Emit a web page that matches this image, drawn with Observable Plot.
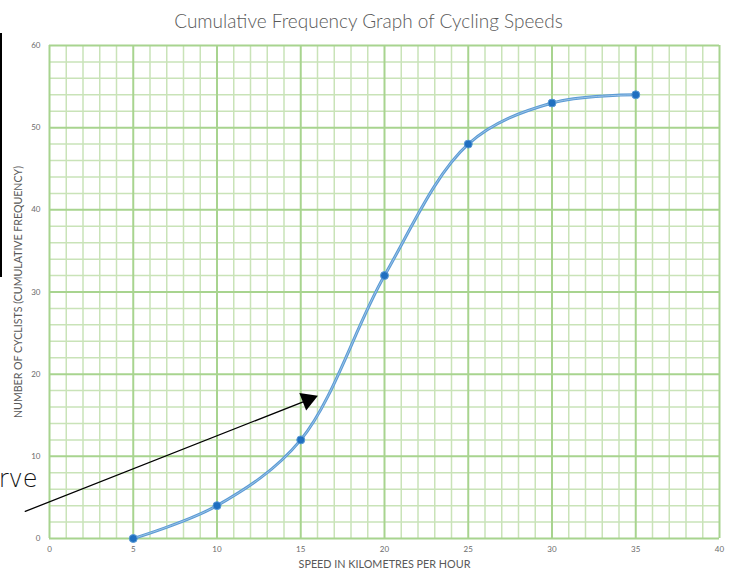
<!DOCTYPE html>
<html>
<head>
<meta charset="utf-8">
<script src="https://cdn.jsdelivr.net/npm/d3@7"></script>
<script src="https://cdn.jsdelivr.net/npm/@observablehq/plot@0.6"></script>
<style>
  html, body { margin: 0; padding: 0; background: #fff; }
  #chart svg { display: block; }
</style>
</head>
<body>
<div id="chart"></div>
<script>
// Data
const speeds = [5, 10, 15, 20, 25, 30, 35];
const cumFreq = [0, 4, 12, 32, 48, 53, 54];
const xTicks = [0, 5, 10, 15, 20, 25, 30, 35, 40];
const yTicks = [0, 10, 20, 30, 40, 50, 60];
const xMinor = d3.range(0, 41, 1);
const yMinor = d3.range(0, 61, 2);
// annotation arrow (data coordinates)
const arrowX = [-1.45, 15.6];
const arrowY = [3.3, 17.0];
const noteText = ["rve"];

const title = "Cumulative Frequency Graph of Cycling Speeds";
const xLabel = "SPEED IN KILOMETRES PER HOUR";
const yLabel = "NUMBER OF CYCLISTS (CUMULATIVE FREQUENCY)";

const pts = speeds.map((s, i) => ({x: s, y: cumFreq[i]}));
const arrowPts = arrowX.map((x, i) => ({x, y: arrowY[i]}));

const font = "Lato, 'Open Sans', sans-serif";

const chart = Plot.plot({
  width: 734,
  height: 572,
  marginLeft: 49,
  marginRight: 15,
  marginTop: 45,
  marginBottom: 34,
  style: {fontFamily: font, background: "#fff"},
  x: {domain: [0, 40]},
  y: {domain: [0, 60]},
  marks: [
    Plot.ruleX(xMinor.filter(d => d % 5 !== 0), {stroke: "#c9e3b8", strokeWidth: 1.5}),
    Plot.ruleY(yMinor.filter(d => d % 10 !== 0), {stroke: "#c9e3b8", strokeWidth: 1.5}),
    Plot.ruleX(xTicks, {stroke: "#a8d48f", strokeWidth: 2}),
    Plot.ruleY(yTicks, {stroke: "#a8d48f", strokeWidth: 2}),
    Plot.axisX(xTicks, {tickSize: 0, tickPadding: 8, fontSize: 8, fill: "#6b6b6b", label: null}),
    Plot.axisY(yTicks, {tickSize: 0, tickPadding: 9, fontSize: 8, fill: "#6b6b6b", label: null}),
    Plot.line(pts, {x: "x", y: "y", curve: "catmull-rom", stroke: "#5b9bd5", strokeWidth: 3}),
    Plot.line(pts, {x: "x", y: "y", curve: "catmull-rom", stroke: "#9cc3e6", strokeWidth: 1}),
    Plot.dot(pts, {x: "x", y: "y", r: 4, fill: "#1f6fc0", stroke: "#5b9bd5", strokeWidth: 1}),
    Plot.line(arrowPts, {x: "x", y: "y", stroke: "#000", strokeWidth: 1.3, clip: false}),
    Plot.dot([arrowPts[1]], {x: "x", y: "y", symbol: "triangle", r: 7, fill: "#000", rotate: 68.7, dx: -3, dy: 1}),
    Plot.text(noteText, {frameAnchor: "bottom-left", text: d => d, dx: -12, dy: -52, textAnchor: "end", fontSize: 24, fill: "#111", fontFamily: "'DejaVu Sans', sans-serif", fontWeight: 300}),
    Plot.text([title], {frameAnchor: "top", text: d => d, dx: -16, dy: -31, fontSize: 19, fontWeight: 300, fill: "#595959"}),
    Plot.text([xLabel], {frameAnchor: "bottom", text: d => d, dy: 29, fontSize: 10.8, fill: "#595959"}),
    Plot.text([yLabel], {frameAnchor: "left", text: d => d, dx: -31, rotate: -90, textAnchor: "middle", fontSize: 10.6, fill: "#595959"})
  ]
});

// black vertical bar at the far left edge (cropped screenshot artifact)
d3.select(chart).append("rect")
  .attr("x", 0).attr("y", 33).attr("width", 2).attr("height", 244).attr("fill", "#000");

document.getElementById("chart").appendChild(chart);
</script>
</body>
</html>
